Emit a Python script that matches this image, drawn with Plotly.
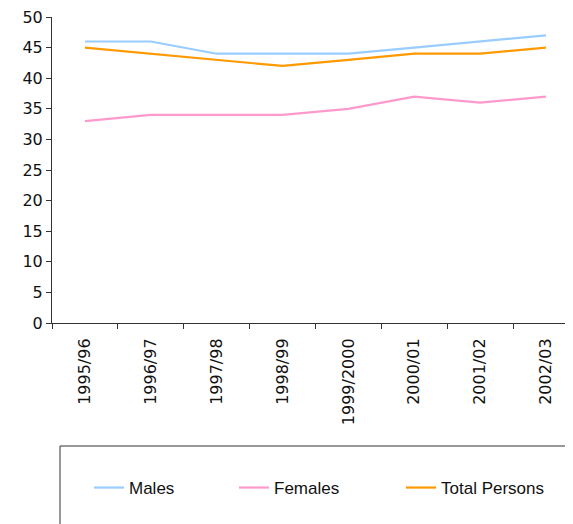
import plotly.graph_objects as go

years = ["1995/96", "1996/97", "1997/98", "1998/99", "1999/2000", "2000/01", "2001/02", "2002/03"]
males = [46, 46, 44, 44, 44, 45, 46, 47]
females = [33, 34, 34, 34, 35, 37, 36, 37]
total = [45, 44, 43, 42, 43, 44, 44, 45]
y_ticks = [0, 5, 10, 15, 20, 25, 30, 35, 40, 45, 50]

OFF = 8  # page body margin offset
W, H = 573, 524
L, R, T = 52 - OFF, 0, 17 - OFF
B = H - (323 - OFF)
pw = W - L - R
ph = H - T - B


def px_x(x):
    return (x - OFF - L) / pw


def px_y(y):
    return (T + ph - (y - OFF)) / ph


fig = go.Figure()
fig.add_trace(go.Scatter(x=years, y=males, name="Males", mode="lines",
                         line=dict(color="#99CCFF", width=2.2), legendwidth=100))
fig.add_trace(go.Scatter(x=years, y=females, name="Females", mode="lines",
                         line=dict(color="#FF99CC", width=2.2), legendwidth=122))
fig.add_trace(go.Scatter(x=years, y=total, name="Total Persons", mode="lines",
                         line=dict(color="#FF9900", width=2.2)))

cat_px = 65.86
x_end = -0.5 + pw / cat_px

fig.update_layout(
    template="none",
    width=W, height=H,
    margin=dict(l=L, r=R, t=T, b=B, pad=0),
    paper_bgcolor="white", plot_bgcolor="white",
    showlegend=True,
    legend=dict(orientation="h", x=px_x(89), xanchor="left",
                y=px_y(488), yanchor="middle",
                font=dict(family="Liberation Sans, Arial", size=17, color="#111111"),
                bgcolor="rgba(0,0,0,0)", borderwidth=0, itemclick=False),
    shapes=[dict(type="rect", xref="paper", yref="paper",
                 x0=px_x(60), x1=1.2, y0=px_y(446), y1=-1.0,
                 line=dict(color="#333333", width=1), fillcolor="rgba(0,0,0,0)")],
    xaxis=dict(type="category", range=[-0.5, x_end], tickson="boundaries",
               ticks="outside", ticklen=5, tickcolor="#333333", tickwidth=1,
               showline=True, linecolor="#333333", linewidth=1,
               showgrid=False, zeroline=False, tickangle=-90, automargin=False,
               ticklabelstandoff=8, ticklabeloverflow="allow",
               tickfont=dict(family="DejaVu Sans, Verdana", size=16, color="#111111")),
    yaxis=dict(range=[0, 50], tickvals=y_ticks, ticks="outside", ticklen=5,
               tickcolor="#333333", tickwidth=1, showline=True, linecolor="#333333",
               linewidth=1, showgrid=False, zeroline=False, automargin=False,
               ticklabeloverflow="allow",
               tickfont=dict(family="DejaVu Sans, Verdana", size=16, color="#111111")),
)

fig.write_html("out.html")
